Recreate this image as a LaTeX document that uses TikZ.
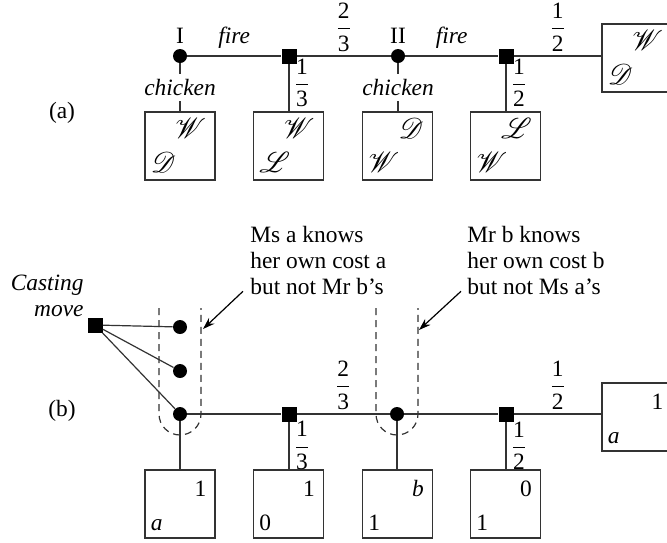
\documentclass[tikz,border=0pt]{standalone}
\usepackage{amsmath}
\usepackage{mathrsfs}
\usepackage{fontspec}
\setmainfont{Liberation Serif}
\usepackage{tikz}
\usetikzlibrary{arrows.meta, positioning}
\definecolor{linegray}{HTML}{333333}
\newcommand{\figfont}{\fontsize{11.7pt}{13pt}\selectfont}
\newcommand{\frc}[2]{$\dfrac{\text{#1}}{\text{#2}}$}
\newcommand{\scr}[1]{{\fontsize{14.4pt}{16pt}\selectfont$\mathscr{#1}$}}
% outcome box: name, centre, top-right entry, bottom-left entry
\newcommand{\payoff}[4]{%
  \node[pbox] (#1) at #2 {};
  \node[pay, anchor=base east] (#1-tr) at ([shift={(-9,27)}]#1.north east) {#3};
  \node[pay, anchor=base west] (#1-bl) at ([shift={(6,-8)}]#1.south west) {#4};
}

\begin{document}
\begin{tikzpicture}[
  x=0.5pt, y=-0.5pt,
  dec/.style = {circle, fill=black, inner sep=0pt, minimum size=7pt},
  chance/.style = {rectangle, fill=black, inner sep=0pt, minimum size=7.5pt},
  pbox/.style = {
    rectangle, draw=linegray, line width=0.6pt,
    minimum width=35pt, minimum height=34pt, inner sep=0pt
  },
  pay/.style = {inner sep=0pt, font=\figfont},
  lab/.style = {font=\figfont},
  act/.style = {font=\figfont\itshape},
  prob/.style = {font=\figfont, inner sep=2pt},
  edge/.style = {draw=linegray, line width=0.6pt},
  infoset/.style = {draw=linegray, line width=0.6pt, dash pattern=on 3.5pt off 2.5pt},
  arr/.style = {-{Stealth[length=6pt, width=4pt]}, draw=black, line width=0.6pt}
]
  \useasboundingbox (0,0) rectangle (667,542);

  % (a) the game with known costs
  \node[lab] (tagA) at (62,113) {(a)};
  \node[dec]    (I)  at (180,56) {};
  \node[chance] (s1) at (289,56) {};
  \node[dec]    (II) at (398,56) {};
  \node[chance] (s2) at (506,56) {};
  \node[lab, above=-1pt of I]  (lI)  {I};
  \node[lab, above=-1pt of II] (lII) {II};

  \payoff{r1}{(637,58)}{\scr{W}}{\scr{D}}
  \payoff{a1}{(180,146)}{\scr{W}}{\scr{D}}
  \payoff{a2}{(288.5,146)}{\scr{W}}{\scr{L}}
  \payoff{a3}{(397.5,146)}{\scr{D}}{\scr{W}}
  \payoff{a4}{(505.5,146)}{\scr{L}}{\scr{W}}

  \draw[edge] (I)  -- node[act, above]  (f1) {fire} (s1);
  \draw[edge] (s1) -- node[prob, above] (p1) {\frc23} (II);
  \draw[edge] (II) -- node[act, above]  (f2) {fire} (s2);
  \draw[edge] (s2) -- node[prob, above] (p2) {\frc12} (r1.west |- s2);

  \draw[edge] (I)  -- node[act, fill=white, inner xsep=1pt, inner ysep=2.5pt] (c1) {chicken} (I |- a1.north);
  \draw[edge] (II) -- node[act, fill=white, inner xsep=1pt, inner ysep=2.5pt] (c2) {chicken} (II |- a3.north);
  \draw[edge] (s1) -- node[prob, right, pos=0.4] (p3) {\frc13} (s1 |- a2.north);
  \draw[edge] (s2) -- node[prob, right, pos=0.4] (p4) {\frc12} (s2 |- a4.north);

  % (b) the game with a casting move
  \node[lab] (tagB) at (62,411) {(b)};
  \node[chance] (cast) at (95,325) {};
  \node[act, align=right, anchor=south east, inner sep=0pt] (castlbl) at (84,317) {Casting\\move};
  \node[dec]    (i1) at (180,327) {};
  \node[dec]    (i2) at (180,371) {};
  \node[dec]    (i3) at (180,414) {};
  \node[chance] (s3) at (289,414) {};
  \node[dec]    (i4) at (397,414) {};
  \node[chance] (s4) at (506,414) {};

  \payoff{r2}{(637,417)}{1}{\textit{a}}
  \payoff{b1}{(180,504)}{1}{\textit{a}}
  \payoff{b2}{(288.5,504)}{1}{0}
  \payoff{b3}{(397.5,504)}{\textit{b}}{1}
  \payoff{b4}{(505.5,504)}{0}{1}

  \draw[edge] (cast) -- (i1);
  \draw[edge] (cast) -- (i2);
  \draw[edge] (cast) -- (i3);
  \draw[edge] (i3) -- (s3);
  \draw[edge] (s3) -- node[prob, above] (p5) {\frc23} (i4);
  \draw[edge] (i4) -- (s4);
  \draw[edge] (s4) -- node[prob, above] (p6) {\frc12} (r2.west |- s4);
  \draw[edge] (i3) -- (i3 |- b1.north);
  \draw[edge] (s3) -- node[prob, right] (p7) {\frc13} (s3 |- b2.north);
  \draw[edge] (i4) -- (i4 |- b3.north);
  \draw[edge] (s4) -- node[prob, right] (p8) {\frc12} (s4 |- b4.north);

  % information sets
  \draw[infoset] ([shift={(-21,-106)}]i3.center) -- ++(0,106)
    arc[start angle=180, end angle=0, radius=21] -- ++(0,-106);
  \draw[infoset] ([shift={(-21,-106)}]i4.center) -- ++(0,106)
    arc[start angle=180, end angle=0, radius=21] -- ++(0,-106);

  \node[lab, align=left, anchor=north west, inner sep=0pt] (knowA) at (250,226)
    {Ms a knows\\her own cost a\\but not Mr b's};
  \node[lab, align=left, anchor=north west, inner sep=0pt] (knowB) at (467,226)
    {Mr b knows\\her own cost b\\but not Ms a's};
  \coordinate (tipA) at (203,329);
  \coordinate (tipB) at (419,330);
  \draw[arr] ([shift={(-7,-4)}]knowA.south west) -- (tipA);
  \draw[arr] ([shift={(-6,-4)}]knowB.south west) -- (tipB);
\end{tikzpicture}
\end{document}
